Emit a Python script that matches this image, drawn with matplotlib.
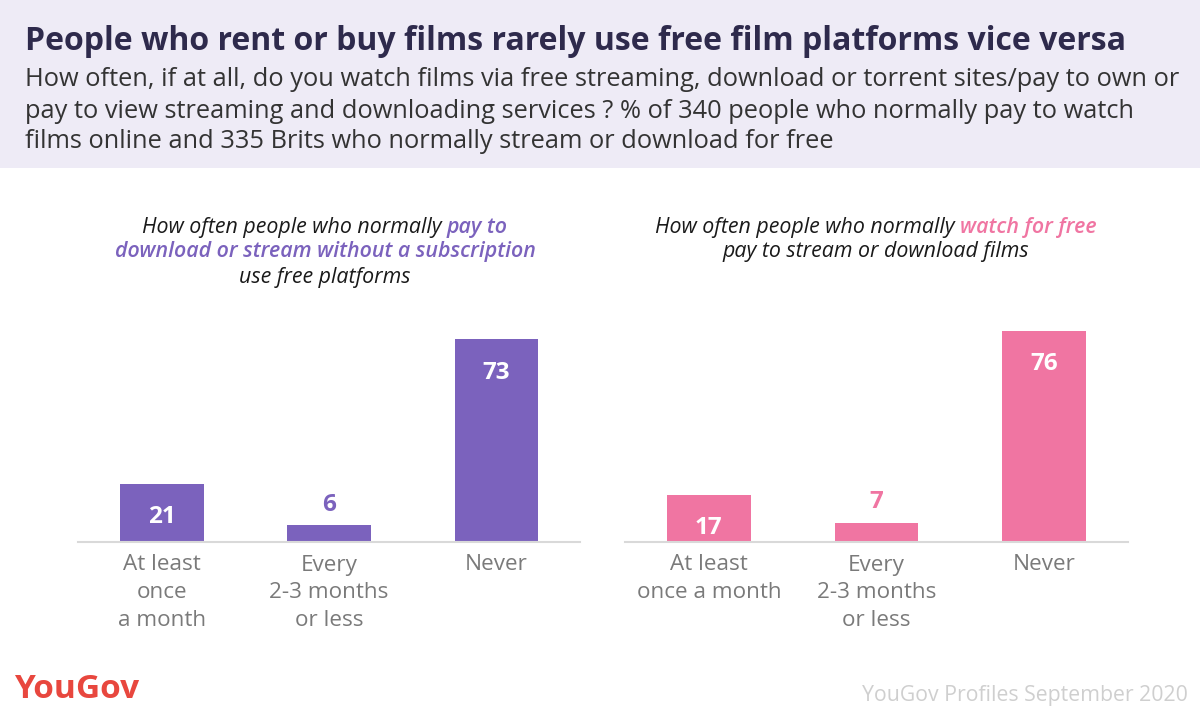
import matplotlib
matplotlib.use("Agg")
import matplotlib.pyplot as plt

plt.rcParams['font.family'] = ['Open Sans', 'DejaVu Sans']

# Daten
categories_left = ['At least\nonce\na month', 'Every\n2-3 months\nor less', 'Never']
values_left = [21, 6, 73]
categories_right = ['At least\nonce a month', 'Every\n2-3 months\nor less', 'Never']
values_right = [17, 7, 76]

purple = '#7b62bd'
pink = '#f075a2'
grey_label = '#7a7a7a'

W, H = 1200, 719
fig = plt.figure(figsize=(12, 7.19), dpi=100)
fig.patch.set_facecolor('white')

# Kopfbereich
fig.patches.append(plt.Rectangle((0, 1 - 168 / H), 1, 168 / H, transform=fig.transFigure,
                                 facecolor='#eeebf6', edgecolor='none', zorder=0))
fig.text(25 / W, 1 - 41 / H, 'People who rent or buy films rarely use free film platforms vice versa',
         fontsize=23, fontweight='bold', color='#2e2a4c', va='center', ha='left')
sub = ['How often, if at all, do you watch films via free streaming, download or torrent sites/pay to own or',
       'pay to view streaming and downloading services ? % of 340 people who normally pay to watch',
       'films online and 335 Brits who normally stream or download for free']
for i, line in enumerate(sub):
    fig.text(25 / W, 1 - (80 + 31 * i) / H, line, fontsize=18.3, color='#333333',
             va='center', ha='left')


def draw_panel(rect, cats, vals, color):
    ax = fig.add_axes(rect)
    x = range(len(vals))
    ax.bar(x, vals, width=0.5, color=color)
    ax.set_xlim(-0.5, 2.5)
    ax.set_ylim(0, 80)
    for s in ['top', 'right', 'left']:
        ax.spines[s].set_visible(False)
    ax.spines['bottom'].set_color('#d9d9d9')
    ax.spines['bottom'].set_linewidth(1.5)
    ax.set_yticks([])
    ax.set_xticks(list(x))
    ax.set_xticklabels(cats, fontsize=16.2, color=grey_label, linespacing=1.42)
    ax.tick_params(axis='x', length=0, pad=9)
    for xi, v in zip(x, vals):
        if v > 12:
            ax.annotate(str(v), (xi, v), xytext=(0, -24), textcoords='offset points',
                        ha='center', va='center', color='white', fontsize=17.5, fontweight='bold')
        else:
            ax.annotate(str(v), (xi, v), xytext=(0, 15), textcoords='offset points',
                        ha='center', va='center', color=color, fontsize=17.5, fontweight='bold')
    return ax


draw_panel([78 / W, 1 - 542 / H, 502 / W, 222 / H], categories_left, values_left, purple)
draw_panel([625 / W, 1 - 542 / H, 503 / W, 222 / H], categories_right, values_right, pink)

# Untertitel der Panels mit farbigen Teilen
fig.canvas.draw()
renderer = fig.canvas.get_renderer()
sub_size = 15.4


def width_of(s, weight):
    t = fig.text(0, 0, s, fontsize=sub_size, style='italic', fontweight=weight)
    w = t.get_window_extent(renderer).width
    t.remove()
    return w


def mixed_line(xc, y, parts):
    gap = width_of('x x', 'normal') - width_of('xx', 'normal')
    widths = [width_of(s, w) for s, c, w in parts]
    total = sum(widths) + gap * (len(parts) - 1)
    x = xc - total / 2
    for (s, c, w), wd in zip(parts, widths):
        fig.text(x / W, 1 - y / H, s, fontsize=sub_size, style='italic', fontweight=w,
                 color=c, va='center', ha='left')
        x += wd + gap


mixed_line(325, 227, [('How often people who normally', '#1a1a1a', 'normal'),
                      ('pay to', purple, 'semibold')])
mixed_line(325, 252, [('download or stream without a subscription', purple, 'semibold')])
mixed_line(325, 277, [('use free platforms', '#1a1a1a', 'normal')])
mixed_line(876, 227, [('How often people who normally', '#1a1a1a', 'normal'),
                      ('watch for free', pink, 'semibold')])
mixed_line(876, 252, [('pay to stream or download films', '#1a1a1a', 'normal')])

# Fußzeile
fig.text(14 / W, 1 - 690 / H, 'YouGov', fontsize=24, fontweight='bold', color='#e8473e',
         va='center', ha='left')
fig.text(1188 / W, 1 - 695 / H, 'YouGov Profiles September 2020', fontsize=15.3,
         color='#cfcfcf', va='center', ha='right')

fig.savefig('out.png', dpi=100)
